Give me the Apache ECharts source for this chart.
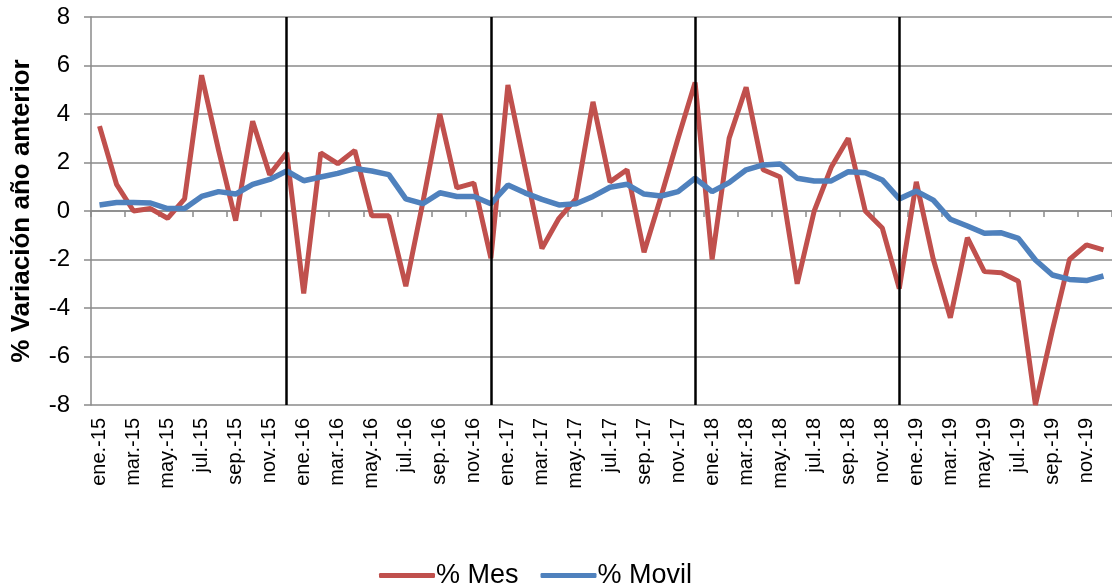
<!DOCTYPE html>
<html>
<head>
<meta charset="utf-8">
<script src="https://cdn.jsdelivr.net/npm/echarts@6/dist/echarts.min.js"></script>
<style>
  html, body { margin: 0; padding: 0; background: #fff; }
  #chart { width: 1112px; height: 586px; }
</style>
</head>
<body>
<div id="chart"></div>
<script>
// monthly categories ene.-15 .. dic.-19
const months = ['ene.', 'feb.', 'mar.', 'abr.', 'may.', 'jun.', 'jul.', 'ago.', 'sep.', 'oct.', 'nov.', 'dic.']
const years = ['15', '16', '17', '18', '19']
const categories = []
years.forEach(y => months.forEach(m => categories.push(m + '-' + y)))

const yearEnds = ['dic.-15', 'dic.-16', 'dic.-17', 'dic.-18']

const mes = [
  3.5, 1.1, 0.0, 0.1, -0.3, 0.5, 5.6, 2.5, -0.4, 3.7, 1.5, 2.4,
  -3.4, 2.4, 1.95, 2.5, -0.2, -0.2, -3.1, 0.35, 4.0, 0.95, 1.15, -1.95,
  5.2, 1.8, -1.55, -0.3, 0.5, 4.5, 1.2, 1.7, -1.7, 0.6, 3.0, 5.3,
  -2.0, 3.0, 5.1, 1.7, 1.4, -3.0, 0.0, 1.8, 3.0, 0.0, -0.7, -3.2,
  1.2, -2.0, -4.4, -1.1, -2.5, -2.55, -2.9, -8.0, -4.9, -2.0, -1.4, -1.6
]

const movil = [
  0.25, 0.35, 0.35, 0.33, 0.1, 0.1, 0.6, 0.8, 0.7, 1.1, 1.3, 1.65,
  1.25, 1.4, 1.55, 1.75, 1.65, 1.5, 0.5, 0.3, 0.75, 0.6, 0.6, 0.3,
  1.07, 0.75, 0.48, 0.25, 0.3, 0.6, 0.98, 1.1, 0.7, 0.62, 0.8, 1.35,
  0.8, 1.17, 1.7, 1.9, 1.94, 1.35, 1.24, 1.24, 1.62, 1.58, 1.28, 0.5,
  0.82, 0.45, -0.34, -0.62, -0.92, -0.9, -1.13, -2.02, -2.64, -2.82, -2.87, -2.68
]

const gridColor = '#8a8a8a'
const font = 'Arial, "Liberation Sans", sans-serif'

const initChart = () => {
  const myChart = echarts.init(document.getElementById('chart'))
  myChart.setOption({
    animation: false,
    textStyle: { fontFamily: font, color: '#000' },
    grid: { left: 91, right: 0, top: 17, bottom: 181 },
    legend: {
      top: 557,
      left: 374,
      itemWidth: 56,
      itemHeight: 5,
      itemGap: 22,
      icon: 'roundRect',
      textStyle: { fontSize: 27, color: '#000', fontFamily: font, padding: [0, 0, 0, -4] },
      data: ['% Mes', '% Movil']
    },
    xAxis: [
      {
        type: 'category',
        data: categories,
        boundaryGap: true,
        position: 'bottom',
        axisLine: { show: false, onZero: false },
        axisTick: { show: false },
        axisLabel: {
          interval: 1,
          rotate: 90,
          margin: 13,
          fontSize: 20,
          color: '#000',
          fontFamily: font
        },
        splitLine: { show: false }
      },
      {
        type: 'category',
        data: categories,
        boundaryGap: true,
        position: 'bottom',
        axisLine: { show: true, onZero: true, lineStyle: { color: gridColor, width: 1.5 } },
        axisTick: { show: true, interval: 1, length: 6, lineStyle: { color: gridColor, width: 1.5 } },
        axisLabel: { show: false },
        splitLine: { show: false }
      }
    ],
    yAxis: {
      type: 'value',
      min: -8,
      max: 8,
      interval: 2,
      name: '% Variación año anterior',
      nameLocation: 'middle',
      nameRotate: 90,
      nameGap: 56,
      nameTextStyle: { fontSize: 26, fontWeight: 'bold', color: '#000', fontFamily: font },
      axisLine: { show: true, lineStyle: { color: gridColor, width: 1.5 } },
      axisTick: { show: true, length: 7, lineStyle: { color: gridColor, width: 1.5 } },
      axisLabel: { fontSize: 24, color: '#000', margin: 21, fontFamily: font },
      splitLine: { show: true, lineStyle: { color: gridColor, width: 1.5 } }
    },
    series: [
      {
        name: '% Mes',
        type: 'line',
        data: mes,
        symbol: 'none',
        color: '#C0504D',
        lineStyle: { width: 5, color: '#C0504D' },
        z: 3,
        markLine: {
          silent: true,
          symbol: 'none',
          label: { show: false },
          lineStyle: { color: '#000', width: 2.5, type: 'solid' },
          data: yearEnds.map(c => ({ xAxis: c }))
        }
      },
      {
        name: '% Movil',
        type: 'line',
        data: movil,
        symbol: 'none',
        color: '#4F81BD',
        lineStyle: { width: 5.5, color: '#4F81BD' },
        z: 4
      }
    ]
  })
}

window.addEventListener('load', () => {
  initChart()
})
</script>
</body>
</html>
